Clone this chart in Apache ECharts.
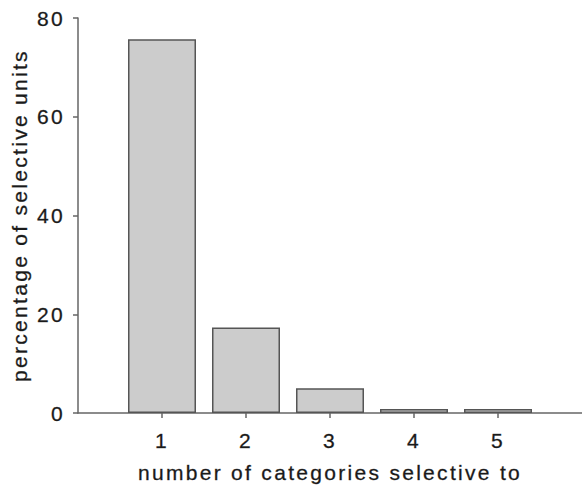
<!DOCTYPE html>
<html><head><meta charset="utf-8">
<script src="https://cdn.jsdelivr.net/npm/echarts@6/dist/echarts.min.js"></script>
<style>html,body{margin:0;padding:0;background:#fff}#c{width:582px;height:489px}#c svg text{letter-spacing:2.3px}</style>
</head><body><div id="c"></div>
<script>
const categories = [1, 2, 3, 4, 5];
const percentages = [75.7, 17.3, 5.0, 0.8, 0.8];
const yTicks = [0, 20, 40, 60, 80];

const chart = echarts.init(document.getElementById('c'), null, {renderer: 'svg'});
const font = 'Liberation Sans, Arial, sans-serif';
const fs = 21;
const txt = {fontFamily: font, fontSize: fs, color: '#1a1a1a', textBorderColor: '#555', textBorderWidth: 0.35};
chart.setOption({
  animation: false,
  grid: {left: 78, right: 0, top: 18, bottom: 76, containLabel: false},
  xAxis: {
    type: 'value', min: 0, max: 6, interval: 1,
    name: 'number of categories selective to', nameLocation: 'middle', nameGap: 49,
    nameTextStyle: Object.assign({}, txt),
    axisLine: {show: true, lineStyle: {color: '#666', width: 1.5}},
    axisTick: {show: true, length: 5, lineStyle: {color: '#666', width: 1.5}, customValues: categories},
    axisLabel: Object.assign({margin: 17, customValues: categories}, txt),
    splitLine: {show: false}
  },
  yAxis: {
    type: 'value', min: 0, max: 80, interval: 20,
    name: 'percentage of selective units', nameLocation: 'middle', nameGap: 48,
    nameTextStyle: Object.assign({}, txt),
    axisLine: {show: true, lineStyle: {color: '#666', width: 1.5}},
    axisTick: {show: true, length: 5, lineStyle: {color: '#666', width: 1.5}},
    axisLabel: Object.assign({margin: 13, customValues: yTicks}, txt),
    splitLine: {show: false}
  },
  series: [{
    type: 'bar',
    data: categories.map((c, i) => [c, percentages[i]]),
    barWidth: 68,
    itemStyle: {color: '#cccccc', borderColor: '#555', borderWidth: 1.5}
  }]
});
</script></body></html>
